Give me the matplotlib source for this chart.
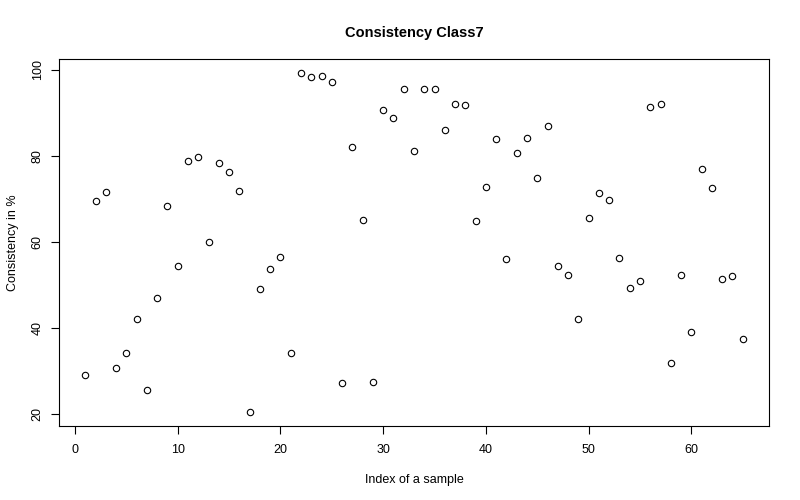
import matplotlib
matplotlib.use("Agg")
import matplotlib.pyplot as plt
import numpy as np

values = [29.1, 69.4, 71.5, 30.7, 34.0, 42.1, 25.6, 46.8, 68.4, 54.3,
          78.8, 79.6, 60.0, 78.2, 76.1, 71.8, 20.3, 49.0, 53.6, 56.4,
          34.2, 99.3, 98.3, 98.6, 97.1, 27.1, 82.0, 65.1, 27.3, 90.5,
          88.7, 95.6, 81.0, 95.6, 95.4, 85.9, 92.1, 91.8, 64.9, 72.8,
          83.8, 55.9, 80.7, 84.1, 74.9, 86.8, 54.3, 52.3, 42.0, 65.6,
          71.2, 69.6, 56.2, 49.2, 50.8, 91.2, 92.0, 31.8, 52.3, 39.1,
          76.8, 72.5, 51.3, 52.0, 37.3]
index = list(range(1, len(values) + 1))
xticks = [0, 10, 20, 30, 40, 50, 60]
yticks = [20, 40, 60, 80, 100]

plt.rcParams['font.family'] = ['Liberation Sans', 'DejaVu Sans']

fig = plt.figure(figsize=(8, 5), dpi=100)
ax = fig.add_axes([59/800, 74/500, 710/800, 367/500])
ax.plot(index, values, linestyle='none', marker='o', markersize=4.6,
        markerfacecolor='none', markeredgecolor='black', markeredgewidth=0.8)

xr = max(index) - min(index)
yr = max(values) - min(values)
ax.set_xlim(min(index) - 0.04 * xr, max(index) + 0.04 * xr)
ax.set_ylim(min(values) - 0.04 * yr, max(values) + 0.04 * yr)

ax.set_xticks(xticks)
ax.set_yticks(yticks)
ax.set_yticklabels([str(t) for t in yticks], rotation=90, va='center')
ax.tick_params(axis='both', labelsize=9, length=6, width=0.8, direction='out')
ax.tick_params(axis='x', pad=7)
ax.tick_params(axis='y', pad=5)
for s in ax.spines.values():
    s.set_linewidth(0.8)

ax.set_title('Consistency Class7', fontsize=10.5, fontweight='bold', pad=16)
ax.set_xlabel('Index of a sample', fontsize=9, labelpad=13)
ax.set_ylabel('Consistency in %', fontsize=9, labelpad=9)

fig.savefig('out.png', dpi=100)
